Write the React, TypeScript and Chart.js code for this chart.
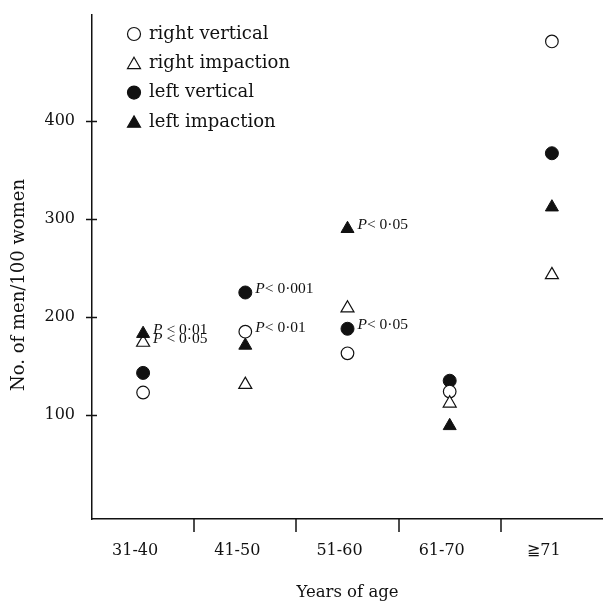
import React, { useEffect, useRef } from "react";
import { Chart, registerables } from "chart.js";

Chart.register(...registerables);

const categories = ["31-40", "41-50", "51-60", "61-70", "≧71"];
const rightVertical = [123, 185, 163, 124, 481];
const rightImpaction = [174, 131, 209, 112, 243];
const leftVertical = [143, 225, 188, 135, 367];
const leftImpaction = [183, 171, 290, 89, 312];
const yTicks = [100, 200, 300, 400];
const yTitle = "No. of men/100 women";
const xTitle = "Years of age";

// significance notes attached to points: [series index, category index, text after italic P]
const noteSeries = [3, 1, 2, 0, 3, 2];
const noteCategory = [0, 0, 1, 1, 2, 2];
const noteText = [" < 0·01", " < 0·05", "< 0·001", "< 0·01", "< 0·05", "< 0·05"];

const SERIF = '"DejaVu Serif", serif';
const INK = "#111";

function drawMarker(ctx, style, x, y, r, fill, stroke) {
  ctx.beginPath();
  if (style === "triangle") {
    let rad = 0;
    ctx.moveTo(x + Math.sin(rad) * r, y - Math.cos(rad) * r);
    rad += (2 * Math.PI) / 3;
    ctx.lineTo(x + Math.sin(rad) * r, y - Math.cos(rad) * r);
    rad += (2 * Math.PI) / 3;
    ctx.lineTo(x + Math.sin(rad) * r, y - Math.cos(rad) * r);
    ctx.closePath();
  } else {
    ctx.arc(x, y, r, 0, Math.PI * 2);
  }
  ctx.fillStyle = fill;
  ctx.fill();
  ctx.lineWidth = 1.2;
  ctx.strokeStyle = stroke;
  ctx.stroke();
}

const decorPlugin = {
  id: "decor",
  afterDraw(chart) {
    const ctx = chart.ctx;
    const xs = chart.scales.x;
    const ys = chart.scales.y;
    const area = chart.chartArea;
    ctx.save();
    // tick marks
    ctx.strokeStyle = INK;
    ctx.lineWidth = 1.5;
    yTicks.forEach((v) => {
      const py = Math.round(ys.getPixelForValue(v)) + 0.5;
      ctx.beginPath();
      ctx.moveTo(area.left - 6, py);
      ctx.lineTo(area.left + 5, py);
      ctx.stroke();
    });
    for (let i = 0; i < categories.length - 1; i++) {
      const px = Math.round((xs.getPixelForValue(i) + xs.getPixelForValue(i + 1)) / 2);
      ctx.beginPath();
      ctx.moveTo(px, area.bottom);
      ctx.lineTo(px, area.bottom + 13);
      ctx.stroke();
    }
    // y title
    ctx.save();
    ctx.translate(19, 285);
    ctx.rotate(-Math.PI / 2);
    ctx.font = "18px " + SERIF;
    ctx.fillStyle = INK;
    ctx.textAlign = "center";
    ctx.textBaseline = "middle";
    ctx.fillText(yTitle, 0, 0);
    ctx.restore();
    // legend
    chart.data.datasets.forEach((ds, i) => {
      const y = 34 + i * 29.3;
      const isTri = ds.pointStyle === "triangle";
      drawMarker(ctx, ds.pointStyle, 134, y + (isTri ? 1.5 : 0), isTri ? 7.5 : 6.5, ds.pointBackgroundColor, ds.pointBorderColor);
      ctx.font = "18px " + SERIF;
      ctx.fillStyle = INK;
      ctx.textAlign = "left";
      ctx.textBaseline = "middle";
      ctx.fillText(ds.label, 149, y);
    });
    // significance notes
    noteText.forEach((t, k) => {
      const el = chart.getDatasetMeta(noteSeries[k]).data[noteCategory[k]];
      if (!el) return;
      const x0 = el.x + 10;
      const y0 = el.y - 4;
      ctx.fillStyle = INK;
      ctx.textAlign = "left";
      ctx.textBaseline = "middle";
      ctx.font = 'italic 15.5px "Liberation Serif", serif';
      ctx.fillText("P", x0, y0);
      const w = ctx.measureText("P").width;
      ctx.font = '15.5px "Liberation Serif", serif';
      ctx.fillText(t, x0 + w, y0);
    });
    ctx.restore();
  },
};

export default function App() {
  const ref = useRef(null);
  useEffect(() => {
    const open = { pointBackgroundColor: "#fff", pointBorderColor: INK, pointBorderWidth: 1.2 };
    const solid = { pointBackgroundColor: INK, pointBorderColor: INK, pointBorderWidth: 1 };
    const chart = new Chart(ref.current, {
      type: "line",
      data: {
        labels: categories,
        datasets: [
          { label: "right vertical", data: rightVertical, pointStyle: "circle", pointRadius: 6.3, order: 3, ...open },
          { label: "right impaction", data: rightImpaction, pointStyle: "triangle", pointRadius: 7.5, order: 2, ...open },
          { label: "left vertical", data: leftVertical, pointStyle: "circle", pointRadius: 6.5, order: 4, ...solid },
          { label: "left impaction", data: leftImpaction, pointStyle: "triangle", pointRadius: 7.5, order: 1, ...solid },
        ],
      },
      options: {
        animation: false,
        responsive: true,
        maintainAspectRatio: false,
        showLine: false,
        layout: { autoPadding: false, padding: { top: 15, left: 0, right: 0, bottom: 0 } },
        plugins: { legend: { display: false }, tooltip: { enabled: false } },
        datasets: { line: { clip: false, pointHoverRadius: 7 } },
        scales: {
          x: {
            type: "category",
            offset: true,
            grid: { display: false, drawTicks: false },
            border: { display: true, color: INK, width: 1.5 },
            ticks: { color: INK, font: { family: SERIF, size: 16 }, padding: 22, labelOffset: -8, maxRotation: 0 },
            title: { display: true, text: xTitle, color: INK, font: { family: SERIF, size: 16.5 }, padding: { top: 0, bottom: -2 } },
            afterFit: (s) => { s.height = 82; s.paddingLeft = 0; s.paddingRight = 0; },
          },
          y: {
            type: "linear",
            min: -6,
            max: 508,
            grid: { display: false, drawTicks: false },
            border: { display: true, color: INK, width: 1.5 },
            ticks: { color: INK, font: { family: SERIF, size: 16 }, padding: 17 },
            afterBuildTicks: (s) => { s.ticks = yTicks.map((v) => ({ value: v })); },
            afterFit: (s) => { s.width = 92; s.paddingTop = 0; s.paddingBottom = 0; },
          },
        },
      },
      plugins: [decorPlugin],
    });
    return () => chart.destroy();
  }, []);
  return (
    <div style={{ position: "absolute", left: 0, top: 0, width: 603, height: 601, background: "#fff" }}>
      <canvas ref={ref} />
    </div>
  );
}
